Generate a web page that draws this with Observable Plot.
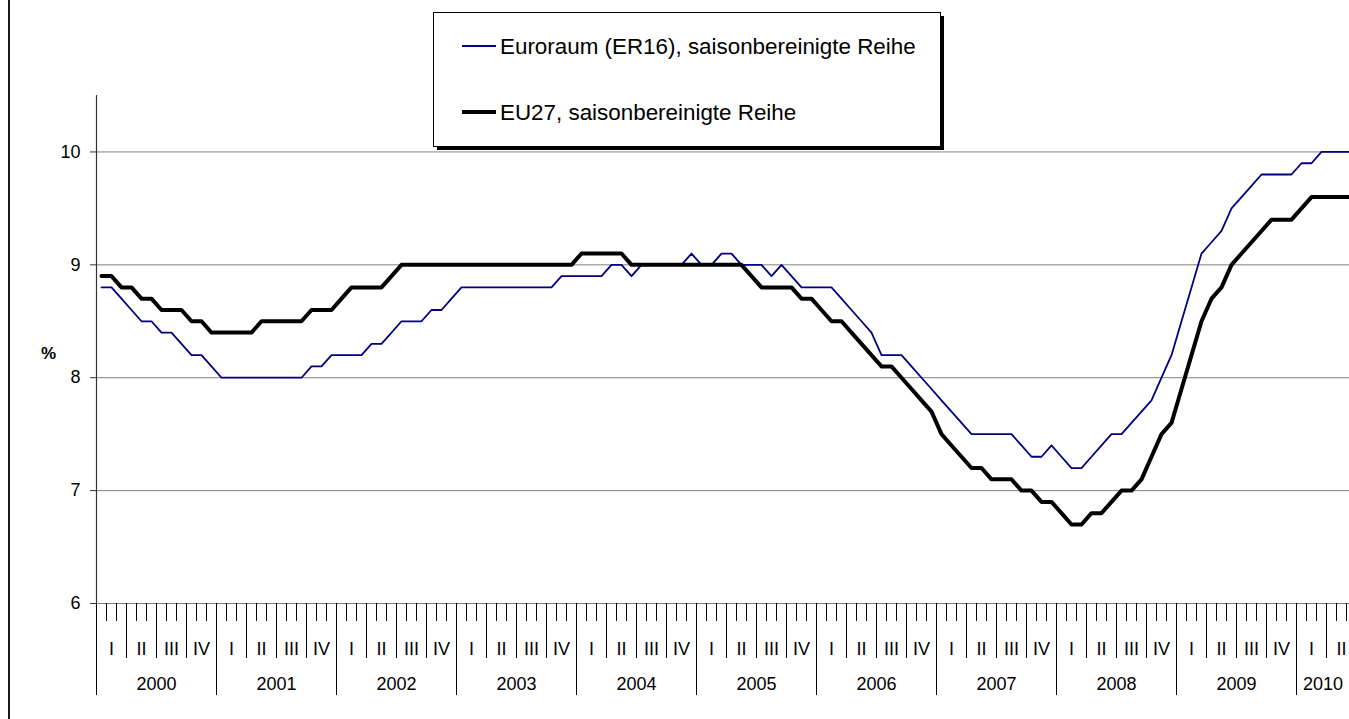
<!DOCTYPE html>
<html><head><meta charset="utf-8">
<script src="https://cdn.jsdelivr.net/npm/d3@7"></script>
<script src="https://cdn.jsdelivr.net/npm/@observablehq/plot@0.6"></script>
<style>
html,body{margin:0;padding:0;background:#fff;overflow:hidden;}
#wrap{position:relative;width:1349px;height:719px;font-family:"Liberation Sans",Arial,sans-serif;}
#chart{position:absolute;left:0;top:0;}
#frame{position:absolute;left:8px;top:0;width:2px;height:719px;background:#1a1a1a;}
#legend{position:absolute;left:0;top:0;pointer-events:none;}
</style></head><body>
<div id="wrap"><div id="chart"></div><div id="frame"></div><svg id="legend" width="1349" height="160"></svg></div>
<script>
const seriesNames = ["Euroraum (ER16), saisonbereinigte Reihe", "EU27, saisonbereinigte Reihe"];
const seriesColors = ["#000080", "#000000"];
const years = [2000, 2001, 2002, 2003, 2004, 2005, 2006, 2007, 2008, 2009, 2010];
const quarterNames = ["I", "II", "III", "IV"];
const yTicks = [6, 7, 8, 9, 10];
const yLabel = "%";

// Monthly values, Jan 2000 – Jun 2010
const ea16 = [
  8.8, 8.8, 8.7, 8.6, 8.5, 8.5, 8.4, 8.4, 8.3, 8.2, 8.2, 8.1,
  8.0, 8.0, 8.0, 8.0, 8.0, 8.0, 8.0, 8.0, 8.0, 8.1, 8.1, 8.2,
  8.2, 8.2, 8.2, 8.3, 8.3, 8.4, 8.5, 8.5, 8.5, 8.6, 8.6, 8.7,
  8.8, 8.8, 8.8, 8.8, 8.8, 8.8, 8.8, 8.8, 8.8, 8.8, 8.9, 8.9,
  8.9, 8.9, 8.9, 9.0, 9.0, 8.9, 9.0, 9.0, 9.0, 9.0, 9.0, 9.1,
  9.0, 9.0, 9.1, 9.1, 9.0, 9.0, 9.0, 8.9, 9.0, 8.9, 8.8, 8.8,
  8.8, 8.8, 8.7, 8.6, 8.5, 8.4, 8.2, 8.2, 8.2, 8.1, 8.0, 7.9,
  7.8, 7.7, 7.6, 7.5, 7.5, 7.5, 7.5, 7.5, 7.4, 7.3, 7.3, 7.4,
  7.3, 7.2, 7.2, 7.3, 7.4, 7.5, 7.5, 7.6, 7.7, 7.8, 8.0, 8.2,
  8.5, 8.8, 9.1, 9.2, 9.3, 9.5, 9.6, 9.7, 9.8, 9.8, 9.8, 9.8,
  9.9, 9.9, 10.0, 10.0, 10.0, 10.0
];
const eu27 = [
  8.9, 8.9, 8.8, 8.8, 8.7, 8.7, 8.6, 8.6, 8.6, 8.5, 8.5, 8.4,
  8.4, 8.4, 8.4, 8.4, 8.5, 8.5, 8.5, 8.5, 8.5, 8.6, 8.6, 8.6,
  8.7, 8.8, 8.8, 8.8, 8.8, 8.9, 9.0, 9.0, 9.0, 9.0, 9.0, 9.0,
  9.0, 9.0, 9.0, 9.0, 9.0, 9.0, 9.0, 9.0, 9.0, 9.0, 9.0, 9.0,
  9.1, 9.1, 9.1, 9.1, 9.1, 9.0, 9.0, 9.0, 9.0, 9.0, 9.0, 9.0,
  9.0, 9.0, 9.0, 9.0, 9.0, 8.9, 8.8, 8.8, 8.8, 8.8, 8.7, 8.7,
  8.6, 8.5, 8.5, 8.4, 8.3, 8.2, 8.1, 8.1, 8.0, 7.9, 7.8, 7.7,
  7.5, 7.4, 7.3, 7.2, 7.2, 7.1, 7.1, 7.1, 7.0, 7.0, 6.9, 6.9,
  6.8, 6.7, 6.7, 6.8, 6.8, 6.9, 7.0, 7.0, 7.1, 7.3, 7.5, 7.6,
  7.9, 8.2, 8.5, 8.7, 8.8, 9.0, 9.1, 9.2, 9.3, 9.4, 9.4, 9.4,
  9.5, 9.6, 9.6, 9.6, 9.6, 9.6
];

const nMonths = ea16.length;
const xMax = 125.3; // visible extent of the category axis (chart is cut at the right)
const toRows = (arr) => arr.map((v, i) => ({t: i + 0.5, v}));
const monthTicks = d3.range(0, nMonths).filter(d => d <= xMax);
const quarterTicks = d3.range(0, nMonths, 3);
const yearTicks = d3.range(0, nMonths, 12);
const quarterLabelPos = d3.range(0, nMonths / 3).map(q => q * 3 + 1.5);
const yearLabelPos = years.map((y, i) => Math.min(i * 12 + 6, (i * 12 + xMax) / 2));

const chart = Plot.plot({
  width: 1349, height: 719,
  marginLeft: 96, marginRight: 0, marginTop: 95, marginBottom: 116,
  x: {type: "linear", domain: [0, xMax]},
  y: {domain: [6, 10.5]},
  style: {fontFamily: "'Liberation Sans', Arial, sans-serif", fontSize: "18px", background: "white", color: "black", overflow: "hidden"},
  marks: [
    Plot.gridY(yTicks, {stroke: "#808080", strokeOpacity: 1, strokeWidth: 1}),
    Plot.axisY(yTicks, {tickSize: 6, tickPadding: 10, fontSize: 18, stroke: "#333", label: null, tickFormat: d => String(d)}),
    Plot.axisX(monthTicks, {tickSize: 18, fill: "none", label: null, stroke: "black"}),
    Plot.axisX(quarterTicks, {tickSize: 55, fill: "none", label: null, stroke: "black"}),
    Plot.axisX(yearTicks, {tickSize: 92, fill: "none", label: null, stroke: "black"}),
    Plot.axisX(quarterLabelPos, {tickSize: 0, tickPadding: 39, fontSize: 18, label: null, tickFormat: d => quarterNames[Math.floor(d / 3) % 4]}),
    Plot.axisX(yearLabelPos, {tickSize: 0, tickPadding: 74, fontSize: 18, label: null, tickFormat: d => String(years[Math.floor(d / 12)])}),
    Plot.ruleX([0], {stroke: "#333", strokeWidth: 1.2}),
    Plot.line(toRows(ea16), {x: "t", y: "v", stroke: seriesColors[0], strokeWidth: 1.8}),
    Plot.line(toRows(eu27), {x: "t", y: "v", stroke: seriesColors[1], strokeWidth: 4}),
    Plot.text([yLabel], {text: d => d, frameAnchor: "left", dx: -48, dy: 4, textAnchor: "middle", fontWeight: "bold", fontSize: 17})
  ]
});
document.getElementById("chart").appendChild(chart);

// Legend box with shadow
const lg = d3.select("#legend");
lg.append("rect").attr("x", 437).attr("y", 16).attr("width", 507).attr("height", 134).attr("fill", "#000");
lg.append("rect").attr("x", 433.5).attr("y", 12.5).attr("width", 507).attr("height", 134).attr("fill", "#fff").attr("stroke", "#000").attr("stroke-width", 1);
const itemY = [46, 112];
seriesNames.forEach((name, i) => {
  lg.append("line").attr("x1", 462).attr("x2", 496).attr("y1", itemY[i]).attr("y2", itemY[i])
    .attr("stroke", seriesColors[i]).attr("stroke-width", i === 0 ? 2 : 4);
  lg.append("text").attr("x", 500).attr("y", itemY[i] + 8)
    .attr("font-family", "'Liberation Sans', Arial, sans-serif").attr("font-size", 22.4)
    .attr("fill", "#000").text(name);
});
</script>
</body></html>
